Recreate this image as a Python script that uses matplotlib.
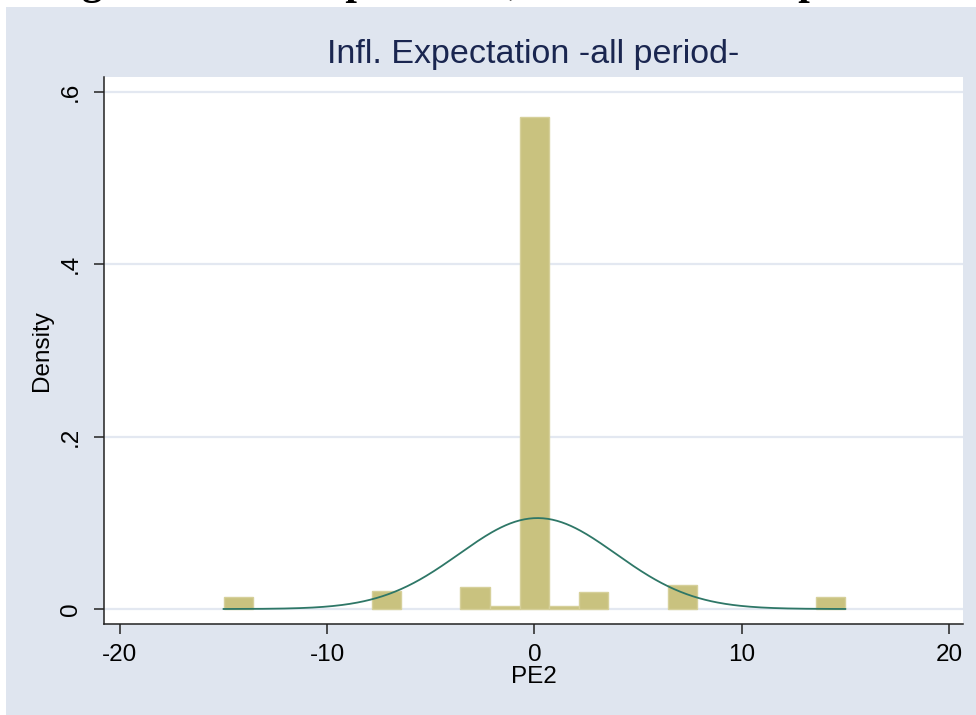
import numpy as np
import matplotlib
matplotlib.use("Agg")
import matplotlib.pyplot as plt
from matplotlib.patches import Rectangle

# histogram of PE2: 21 equal bins over [-15, 15], density scale
bin_lo = -15.0
bin_hi = 15.0
densities = [0.0143, 0.0, 0.0, 0.0, 0.0, 0.0212, 0.0, 0.0, 0.0255, 0.0035,
             0.571, 0.0035, 0.0194, 0.0, 0.0, 0.0279, 0.0, 0.0, 0.0, 0.0, 0.0143]

# fitted normal overlay
norm_mean = 0.15
norm_sd = 3.78

xticks = [-20, -10, 0, 10, 20]
yticks = [0, 0.2, 0.4, 0.6]
ytick_labels = ["0", ".2", ".4", ".6"]

plt.rcParams["font.family"] = ["Liberation Sans", "DejaVu Sans"]
plt.rcParams["axes.unicode_minus"] = False

W, H = 976, 715
fig = plt.figure(figsize=(W / 100, H / 100), dpi=100, facecolor="white")

# graph region background, kept behind the axes
fig.patches.append(Rectangle((6 / W, 0), 1 - 6 / W, 1 - 7 / H, transform=fig.transFigure,
                             facecolor="#DFE5EF", edgecolor="none", zorder=-10))

# caption line running off the top of the page, only descenders stay on it
fig.text(45 / W, 1 + 6 / H, "Figure 3: The Expectation, the entire time period",
         family=["Liberation Serif", "DejaVu Serif"], weight="bold", fontsize=30,
         va="baseline", ha="left", color="black")

ax = fig.add_axes([104 / W, 1 - 624 / H, (963 - 104) / W, (624 - 77) / H])
ax.set_facecolor("white")

n_bins = len(densities)
width = (bin_hi - bin_lo) / n_bins
lefts = bin_lo + width * np.arange(n_bins)
# empty bins get no outline so nothing shows along the baseline
edge_w = [1.0 if d > 0 else 0.0 for d in densities]
ax.bar(lefts, densities, width=width, align="edge", color="#C9C27F",
       edgecolor="#D6D09A", linewidth=edge_w, zorder=2)

xs = np.linspace(bin_lo, bin_hi, 400)
pdf = np.exp(-0.5 * ((xs - norm_mean) / norm_sd) ** 2) / (norm_sd * np.sqrt(2 * np.pi))
ax.plot(xs, pdf, color="#2E7767", linewidth=1.3, zorder=3)

ax.set_xlim(-20.77, 20.68)
ax.set_ylim(-0.0174, 0.6174)
ax.set_xticks(xticks)
ax.set_yticks(yticks)
ax.set_yticklabels(ytick_labels, rotation=90, va="center")
ax.yaxis.grid(True, color="#E3E8F1", linewidth=1.6, zorder=1)
ax.set_axisbelow(True)

for side in ("top", "right"):
    ax.spines[side].set_visible(False)
for side in ("left", "bottom"):
    ax.spines[side].set_linewidth(1.1)
    ax.spines[side].set_color("#222222")

ax.tick_params(axis="x", length=7.2, width=1.1, pad=7, labelsize=17.5, color="#222222")
ax.tick_params(axis="y", length=7.2, width=1.1, pad=8.5, labelsize=17.5, color="#222222")

ax.set_xlabel("PE2", fontsize=17.5, labelpad=0)
ax.set_ylabel("Density", fontsize=17.5, labelpad=5)
ax.set_title("Infl. Expectation -all period-", fontsize=24.5, color="#1A2650", pad=10)

fig.savefig("out.png", dpi=100, facecolor="white")
